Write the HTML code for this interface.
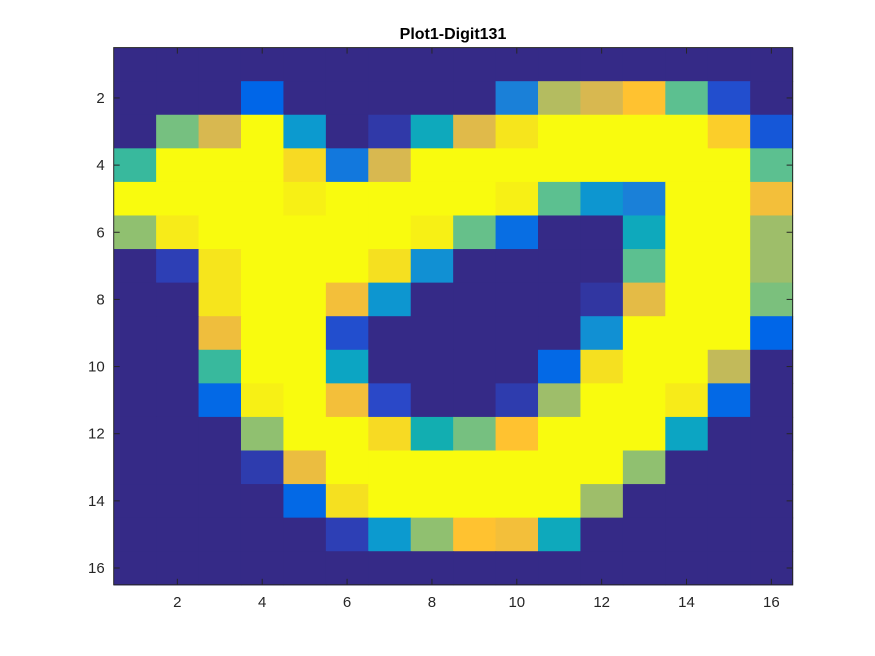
<!DOCTYPE html>
<html><head><meta charset="utf-8"><style>
html,body{margin:0;padding:0;background:#fff;}
svg{display:block;font-family:"Liberation Sans",Arial,sans-serif;}
</style></head><body>
<svg id="chart" width="875" height="656" viewBox="0 0 875 656">
<rect width="875" height="656" fill="#fff"/>
<text x="453" y="39" text-anchor="middle" font-size="16" font-weight="bold" fill="#000">Plot1-Digit131</text>
<g id="cells"></g>
<g id="axes"></g>
</svg>
<script>
const rowsData = [
[0,0,0,0,0,0,0,0,0,0,0,0,0,0,0,0],
[0,0,0,0.2,0,0,0,0,0,0.3,0.75,0.8,0.9,0.6,0.12,0],
[0,0.65,0.8,1,0.38,0,0.05,0.45,0.82,0.96,1,1,1,1,0.92,0.15],
[0.55,1,1,1,0.94,0.27,0.8,1,1,1,1,1,1,1,1,0.6],
[1,1,1,1,0.98,1,1,1,1,0.98,0.6,0.37,0.3,1,1,0.87],
[0.7,0.97,1,1,1,1,1,0.98,0.62,0.23,0,0,0.45,1,1,0.72],
[0,0.07,0.96,1,1,1,0.95,0.35,0,0,0,0,0.6,1,1,0.72],
[0,0,0.96,1,1,0.87,0.37,0,0,0,0,0.04,0.83,1,1,0.66],
[0,0,0.86,1,1,0.12,0,0,0,0,0,0.35,1,1,1,0.2],
[0,0,0.55,1,1,0.43,0,0,0,0,0.21,0.95,1,1,0.77,0],
[0,0,0.21,0.98,1,0.87,0.1,0,0,0.06,0.72,1,1,0.97,0.21,0],
[0,0,0,0.7,1,1,0.94,0.48,0.65,0.9,1,1,1,0.43,0,0],
[0,0,0,0.06,0.85,1,1,1,1,1,1,1,0.7,0,0,0],
[0,0,0,0,0.21,0.95,1,1,1,1,1,0.72,0,0,0,0],
[0,0,0,0,0,0.07,0.38,0.7,0.9,0.87,0.45,0,0,0,0,0],
[0,0,0,0,0,0,0,0,0,0,0,0,0,0,0,0]
];
const xTicks = [2,4,6,8,10,12,14,16];
const yTicks = [2,4,6,8,10,12,14,16];
const cmapStops = [0,0.1,0.2,0.3,0.4,0.5,0.6,0.7,0.8,0.9,0.95,1];
const cmapColors = [[53,42,135],[42,72,200],[0,102,232],[26,128,216],[8,160,205],[20,178,170],[92,192,144],[144,192,112],[216,184,80],[255,194,48],[245,224,32],[249,251,14]];

const NS='http://www.w3.org/2000/svg';
const L=113.7,R=792.6,T=47.6,B=584.8;
const sx=v=>L+(v-0.5)*(R-L)/16;
const sy=v=>T+(v-0.5)*(B-T)/16;
function color(v){
  v=Math.max(0,Math.min(1,v));
  for(let i=1;i<cmapStops.length;i++){
    if(v<=cmapStops[i]){
      const t=(v-cmapStops[i-1])/(cmapStops[i]-cmapStops[i-1]);
      const a=cmapColors[i-1],b=cmapColors[i];
      return 'rgb('+a.map((c,k)=>Math.round(c+(b[k]-c)*t)).join(',')+')';
    }
  }
  return 'rgb(249,251,14)';
}
const cells=document.getElementById('cells');
rowsData.forEach((row,ri)=>{
  row.forEach((v,ci)=>{
    const r=document.createElementNS(NS,'rect');
    const x0=sx(ci+0.5),x1=sx(ci+1.5),y0=sy(ri+0.5),y1=sy(ri+1.5);
    r.setAttribute('x',x0);r.setAttribute('y',y0);
    r.setAttribute('width',x1-x0+0.6);r.setAttribute('height',y1-y0+0.6);
    r.setAttribute('fill',color(v));
    
    
    cells.appendChild(r);
  });
});
const axes=document.getElementById('axes');
function line(x1,y1,x2,y2,name){
  const l=document.createElementNS(NS,'line');
  l.setAttribute('x1',x1);l.setAttribute('y1',y1);l.setAttribute('x2',x2);l.setAttribute('y2',y2);
  l.setAttribute('stroke','#262626');l.setAttribute('stroke-width','1');
  
  
  axes.appendChild(l);
}
function text(x,y,s,anchor,name){
  const t=document.createElementNS(NS,'text');
  t.setAttribute('x',x);t.setAttribute('y',y);t.setAttribute('text-anchor',anchor);
  t.setAttribute('font-size','15');t.setAttribute('fill','#262626');
  t.textContent=s;
  
  
  axes.appendChild(t);
}
const box=document.createElementNS(NS,'rect');
box.setAttribute('x',L);box.setAttribute('y',T);box.setAttribute('width',R-L);box.setAttribute('height',B-T);
box.setAttribute('fill','none');box.setAttribute('stroke','#262626');box.setAttribute('stroke-width','1');


axes.appendChild(box);
xTicks.forEach(v=>{
  const x=sx(v);
  line(x,B,x,B-6,'x-tick');
  line(x,T,x,T+6,'x-tick-top');
  text(x,B+22,String(v),'middle','x-tick-label');
});
yTicks.forEach(v=>{
  const y=sy(v);
  line(L,y,L+6,y,'y-tick');
  line(R,y,R-6,y,'y-tick-right');
  text(L-9,y+5,String(v),'end','y-tick-label');
});
</script>
</body></html>
